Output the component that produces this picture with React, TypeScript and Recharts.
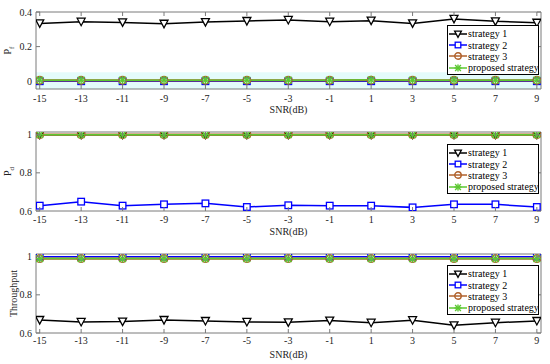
import React from 'react';
import { LineChart, Line, XAxis, YAxis, Legend, ReferenceArea } from 'recharts';

const snr = [-15, -13, -11, -9, -7, -5, -3, -1, 1, 3, 5, 7, 9];
const seriesNames = ['strategy 1', 'strategy 2', 'strategy 3', 'proposed strategy'];

const pfStrategy1 = [0.334, 0.344, 0.34, 0.332, 0.342, 0.348, 0.354, 0.344, 0.35, 0.334, 0.36, 0.346, 0.338];
const pfStrategy2 = [0, 0, 0, 0, 0, 0, 0, 0, 0, 0, 0, 0, 0];
const pfStrategy3 = [0.005, 0.005, 0.005, 0.005, 0.005, 0.005, 0.005, 0.005, 0.006, 0.005, 0.005, 0.005, 0.005];
const pfProposed = [0.006, 0.006, 0.006, 0.006, 0.006, 0.006, 0.006, 0.006, 0.008, 0.006, 0.006, 0.006, 0.006];

const pdStrategy1 = [1, 1, 1, 1, 1, 1, 1, 1, 1, 1, 1, 1, 1];
const pdStrategy2 = [0.628, 0.649, 0.628, 0.635, 0.64, 0.621, 0.63, 0.628, 0.628, 0.619, 0.635, 0.635, 0.621];
const pdStrategy3 = [1, 1, 1, 1, 1, 1, 1, 1, 1, 1, 1, 1, 1];
const pdProposed = [1, 1, 1, 1, 1, 1, 1, 1, 1, 1, 1, 1, 1];

const thStrategy1 = [0.668, 0.658, 0.66, 0.668, 0.663, 0.658, 0.656, 0.665, 0.654, 0.667, 0.64, 0.654, 0.663];
const thStrategy2 = [1, 1, 1, 1, 1, 1, 1, 1, 1, 1, 1, 1, 1];
const thStrategy3 = [0.99, 0.99, 0.99, 0.99, 0.99, 0.99, 0.99, 0.99, 0.99, 0.99, 0.99, 0.99, 0.99];
const thProposed = [0.99, 0.99, 0.99, 0.99, 0.99, 0.99, 0.99, 0.99, 0.99, 0.99, 0.99, 0.99, 0.99];

const pfTicks = [0, 0.2, 0.4];
const pdTicks = [0.6, 0.8, 1];
const thTicks = [0.6, 0.8, 1];

const FONT = 'Liberation Serif, Times New Roman, serif';
const AXIS = '#7a7a7a';
const COLORS = ['#000000', '#0000ff', '#b0602a', '#5cc832'];
const W = 550;
const H = 364;
const LEFT = 36;
const RIGHT = 541;

const build = (a: number[], b: number[], c: number[], d: number[]) =>
  snr.map((x, i) => ({ x, s1: a[i], s2: b[i], s3: c[i], s4: d[i] }));

const marker = (kind: number, cx: number, cy: number, key: string, size = 1) => {
  const col = COLORS[kind];
  if (kind === 0) {
    return (
      <polygon key={key} points={`${cx - 4 * size},${cy - 3.5 * size} ${cx + 4 * size},${cy - 3.5 * size} ${cx},${cy + 4 * size}`}
        fill="#fff" stroke={col} strokeWidth={1.3} />
    );
  }
  if (kind === 1) {
    return <rect key={key} x={cx - 3.3 * size} y={cy - 3.3 * size} width={6.6 * size} height={6.6 * size} fill="#fff" stroke={col} strokeWidth={1.3} />;
  }
  if (kind === 2) {
    return <circle key={key} cx={cx} cy={cy} r={3.8 * size} fill="none" stroke={col} strokeWidth={1.4} />;
  }
  const r = 3.4 * size;
  return (
    <g key={key} stroke={col} strokeWidth={1.4}>
      <line x1={cx - r} y1={cy - r} x2={cx + r} y2={cy + r} />
      <line x1={cx - r} y1={cy + r} x2={cx + r} y2={cy - r} />
      <line x1={cx} y1={cy - r * 1.2} x2={cx} y2={cy + r * 1.2} />
      <line x1={cx - r * 1.2} y1={cy} x2={cx + r * 1.2} y2={cy} />
    </g>
  );
};

const dotFor = (kind: number) => (p: any) => {
  if (p.cx == null || p.cy == null) return <g key={`e${kind}-${p.index}`} />;
  return marker(kind, p.cx, p.cy, `m${kind}-${p.index}`);
};

const LegendBox = () => (
  <div style={{ width: 92, height: 50, border: '1px solid #000', background: '#fff', boxSizing: 'border-box', fontFamily: FONT, fontSize: 10, color: '#000', paddingTop: 2 }}>
    {seriesNames.map((n, i) => (
      <div key={n} style={{ display: 'flex', alignItems: 'center', height: 11.4, whiteSpace: 'nowrap' }}>
        <svg width={19} height={10} style={{ marginLeft: 1, flex: 'none' }}>
          <line x1={0} y1={5} x2={18} y2={5} stroke={COLORS[i]} strokeWidth={1.5} />
          {marker(i, 9, 5, 'lg' + i, 0.85)}
        </svg>
        <span style={{ marginLeft: 0 }}>{n}</span>
      </div>
    ))}
  </div>
);

type PanelProps = {
  data: any[];
  top: number;
  bottom: number;
  domain: [number, number];
  ticks: number[];
  xLabelDy: number;
  snrY: number;
  legendTop: number;
  ylabel: React.ReactNode;
  ylabelX: number;
  band?: [number, number];
};

const fmt = (v: number) => (Math.abs(v) < 1e-9 ? '0' : String(v));

const Panel = ({ data, top, bottom, domain, ticks, xLabelDy, snrY, legendTop, ylabel, ylabelX, band }: PanelProps) => {
  const midY = (top + bottom) / 2;
  return (
    <div style={{ position: 'absolute', left: 0, top: 0 }}>
      <LineChart width={W} height={H} data={data} margin={{ top: top - 1, bottom: H - bottom - 1, left: LEFT - 1, right: W - RIGHT - 1 }}>
        {band ? <ReferenceArea y1={band[0]} y2={band[1]} fill="#e4fbfb" fillOpacity={1} stroke="none" ifOverflow="hidden" /> : null}
        <XAxis
          dataKey="x" type="number" domain={[-15.18, 9.2]} ticks={snr} allowDataOverflow
          height={1} tickSize={0} tickMargin={0} tickLine={false}
          axisLine={{ stroke: AXIS }}
          tick={(p: any) => (
            <g key={`xt${p.payload.value}`}>
              <line x1={p.x} x2={p.x} y1={p.y} y2={p.y - 4} stroke={AXIS} />
              <text x={p.x} y={p.y + xLabelDy} textAnchor="middle" fontFamily={FONT} fontSize={10} fill="#222">{p.payload.value}</text>
            </g>
          )}
          interval={0}
          label={{
            content: () => (
              <text x={(LEFT + RIGHT) / 2} y={snrY} textAnchor="middle" fontFamily={FONT} fontSize={10} fill="#222">SNR(dB)</text>
            ),
          }}
        />
        <XAxis
          xAxisId="top" orientation="top" dataKey="x" type="number" domain={[-15.18, 9.2]} ticks={snr} allowDataOverflow
          height={1} tickSize={0} tickMargin={0} tickLine={false} interval={0}
          axisLine={{ stroke: AXIS }}
          tick={(p: any) => (
            <line key={`tt${p.payload.value}`} x1={p.x} x2={p.x} y1={p.y} y2={p.y + 4} stroke={AXIS} />
          )}
        />
        <YAxis
          type="number" domain={domain} ticks={ticks} allowDataOverflow width={1}
          tickSize={0} tickMargin={0} tickLine={false} interval={0}
          axisLine={{ stroke: AXIS }}
          tick={(p: any) => (
            <g key={`yt${p.payload.value}`}>
              <line x1={p.x} x2={p.x + 4} y1={p.y} y2={p.y} stroke={AXIS} />
              <text x={p.x - 4} y={p.y + 3.5} textAnchor="end" fontFamily={FONT} fontSize={10} fill="#222">{fmt(p.payload.value)}</text>
            </g>
          )}
          label={{
            content: () => (
              <text x={ylabelX} y={midY} transform={`rotate(-90, ${ylabelX}, ${midY})`} textAnchor="middle" fontFamily={FONT} fontSize={10} fill="#222">{ylabel}</text>
            ),
          }}
        />
        <YAxis
          yAxisId="r" orientation="right" type="number" domain={domain} ticks={ticks} allowDataOverflow width={1}
          tickSize={0} tickMargin={0} tickLine={false} interval={0}
          axisLine={{ stroke: AXIS }}
          tick={(p: any) => (
            <line key={`rt${p.payload.value}`} x1={p.x} x2={p.x - 4} y1={p.y} y2={p.y} stroke={AXIS} />
          )}
        />
        {['s1', 's2', 's3', 's4'].map((k, i) => (
          <Line key={k} dataKey={k} name={seriesNames[i]} type="linear" stroke={COLORS[i]} strokeWidth={i === 2 ? 2.2 : 1.5}
            dot={dotFor(i)} activeDot={false} isAnimationActive={false} />
        ))}
        <Legend layout="horizontal" verticalAlign="middle" align="center" content={() => <LegendBox />}
          wrapperStyle={{ position: 'absolute', left: 447, top: legendTop, width: 92, height: 50 }} />
      </LineChart>
    </div>
  );
};

export default function App() {
  return (
    <div style={{ position: 'absolute', left: 0, top: 0, width: W, height: H, background: '#fff' }}>
      <Panel data={build(pfStrategy1, pfStrategy2, pfStrategy3, pfProposed)} top={12} bottom={89}
        domain={[-0.045, 0.4]} ticks={pfTicks} xLabelDy={13} snrY={113} legendTop={25}
        ylabel={<>P<tspan dy={2.5} fontSize={7}>f</tspan></>} ylabelX={11} band={[-0.045, 0.052]} />
      <Panel data={build(pdStrategy1, pdStrategy2, pdStrategy3, pdProposed)} top={132} bottom={211}
        domain={[0.6, 1.014]} ticks={pdTicks} xLabelDy={12} snrY={235} legendTop={144}
        ylabel={<>P<tspan dy={2.5} fontSize={7}>d</tspan></>} ylabelX={11} />
      <Panel data={build(thStrategy1, thStrategy2, thStrategy3, thProposed)} top={254} bottom={333}
        domain={[0.6, 1.014]} ticks={thTicks} xLabelDy={10.5} snrY={358} legendTop={265}
        ylabel="Throughput" ylabelX={16.5} />
    </div>
  );
}
